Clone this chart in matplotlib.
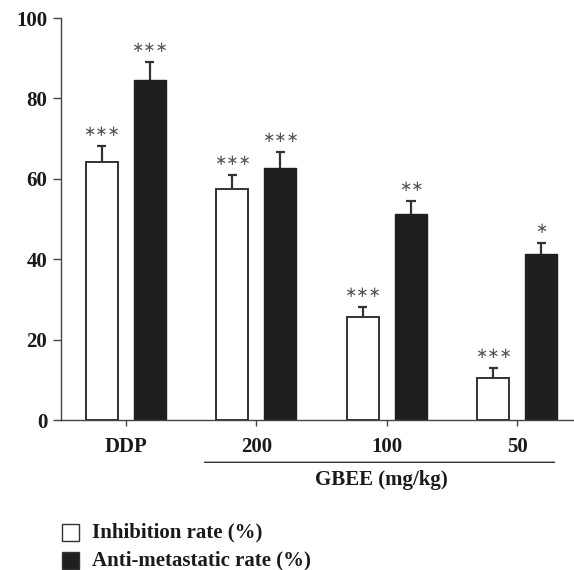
import matplotlib
matplotlib.use('Agg')
import matplotlib.pyplot as plt
from matplotlib.patches import Rectangle
import numpy as np

groups = ['DDP', '200', '100', '50']
inhibition = [64.2, 57.5, 25.7, 10.5]
inhibition_err = [3.9, 3.4, 2.5, 2.5]
antimeta = [84.5, 62.6, 51.3, 41.2]
antimeta_err = [4.5, 4.1, 3.3, 2.9]
stars_inh = ['∗∗∗', '∗∗∗', '∗∗∗', '∗∗∗']
stars_anti = ['∗∗∗', '∗∗∗', '∗∗', '∗']
yticks = [0, 20, 40, 60, 80, 100]

plt.rcParams['font.family'] = ['Liberation Serif', 'DejaVu Serif']
plt.rcParams['font.weight'] = 'bold'

fig = plt.figure(figsize=(5.74, 5.70), dpi=100)
ax = fig.add_axes([0.1063, 0.263, 0.893, 0.7053])

x = np.arange(len(groups))
off = 0.184
w = 0.245
dark = '#1f1f20'
edge = '#333333'

ax.bar(x - off, inhibition, w, color='white', edgecolor=edge, linewidth=1.4, zorder=2)
ax.bar(x + off, antimeta, w, color=dark, edgecolor=dark, linewidth=1.0, zorder=2)
# upper error bars only
ax.vlines(x - off, inhibition, np.add(inhibition, inhibition_err), color=edge, lw=1.6, zorder=1)
ax.vlines(x + off, antimeta, np.add(antimeta, antimeta_err), color=edge, lw=1.6, zorder=1)
capw = 0.035
ax.hlines(np.add(inhibition, inhibition_err), x - off - capw, x - off + capw, color=edge, lw=1.6)
ax.hlines(np.add(antimeta, antimeta_err), x + off - capw, x + off + capw, color=edge, lw=1.6)

for i in range(len(groups)):
    ax.annotate(stars_inh[i], (x[i] - off, inhibition[i] + inhibition_err[i]),
                xytext=(0, 5), textcoords='offset points', ha='center', va='bottom',
                fontsize=10.5, color='#555555', fontweight='normal', family='DejaVu Sans')
    ax.annotate(stars_anti[i], (x[i] + off, antimeta[i] + antimeta_err[i]),
                xytext=(0, 5), textcoords='offset points', ha='center', va='bottom',
                fontsize=10.5, color='#555555', fontweight='normal', family='DejaVu Sans')

ax.set_xlim(-0.497, 3.43)
ax.set_ylim(0, 100)
ax.set_xticks(x)
ax.set_xticklabels(groups, fontsize=15, fontweight='bold')
ax.set_yticks(yticks)
ax.set_yticklabels([str(t) for t in yticks], fontsize=15, fontweight='bold')
ax.tick_params(axis='y', length=6, width=1.0, color='#444444', pad=4, labelcolor='#1a1a1a')
ax.tick_params(axis='x', length=4, width=1.0, color='#444444', pad=8, labelcolor='#1a1a1a')
for s in ['top', 'right']:
    ax.spines[s].set_visible(False)
for s in ['left', 'bottom']:
    ax.spines[s].set_color('#444444')
    ax.spines[s].set_linewidth(1.0)

# GBEE bracket line under the dose groups
ax.annotate('', xy=(0.58, -0.105), xycoords=('data', 'axes fraction'),
            xytext=(3.306, -0.105), textcoords=('data', 'axes fraction'),
            arrowprops=dict(arrowstyle='-', color='#333333', lw=1.0))
ax.text(1.96, -0.15, 'GBEE (mg/kg)', transform=ax.get_xaxis_transform(),
        ha='center', va='center', fontsize=15, fontweight='bold', color='#1a1a1a')

# legend
lx = 62 / 574
for k, (lab, fc) in enumerate([('Inhibition rate (%)', 'white'),
                               ('Anti-metastatic rate (%)', dark)]):
    yc = 1 - (532 + 28 * k) / 570
    fig.patches.append(Rectangle((lx, yc - 8.5 / 570), 17 / 574, 17 / 570,
                                 transform=fig.transFigure, facecolor=fc,
                                 edgecolor='#333333', linewidth=1.0))
    fig.text(92 / 574, yc, lab, ha='left', va='center', fontsize=15,
             fontweight='bold', color='#1a1a1a')

fig.savefig('out.png', dpi=100)
